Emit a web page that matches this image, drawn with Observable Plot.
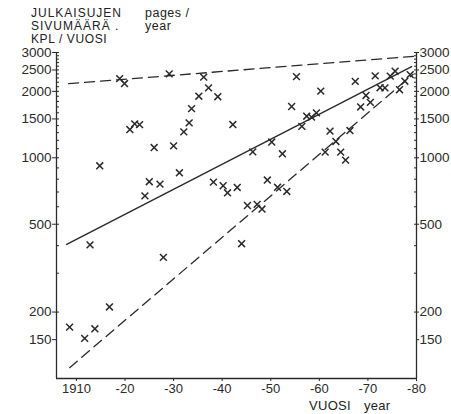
<!DOCTYPE html>
<html><head><meta charset="utf-8">
<script src="https://cdn.jsdelivr.net/npm/d3@7"></script>
<script src="https://cdn.jsdelivr.net/npm/@observablehq/plot@0.6"></script>
<style>
body{margin:0;background:#fff;}
#wrap{position:relative;width:451px;height:414px;font-family:"Liberation Sans",Arial,sans-serif;color:#222;}
#wrap svg{position:absolute;left:0;top:0;}
.lbl{position:absolute;white-space:nowrap;line-height:1;font-size:12px;}
</style></head><body>
<div id="wrap">
  <div class="lbl" style="left:31px;top:7px;letter-spacing:1px">JULKAISUJEN</div>
  <div class="lbl" style="left:31px;top:20px;letter-spacing:1px">SIVUMÄÄRÄ .</div>
  <div class="lbl" style="left:31px;top:32.5px;letter-spacing:0.6px">KPL / VUOSI</div>
  <div class="lbl" style="left:145px;top:6.5px;font-size:12.5px;letter-spacing:0.5px">pages /</div>
  <div class="lbl" style="left:145px;top:19.5px;font-size:12.5px;letter-spacing:0.5px">year</div>
  <div class="lbl" style="left:309px;top:399px;font-size:13px;letter-spacing:0.3px">VUOSI</div>
  <div class="lbl" style="left:364px;top:399px;font-size:13px;letter-spacing:0.3px">year</div>
</div>
<script>
const years = [1908.6,1911.7,1913.8,1916.8,1927.9,1912.8,1914.8,1918.9,1919.9,1929.1,1921.0,1922.0,1923.0,1926.0,1930.0,1932.1,1933.2,1933.7,1931.2,1925.0,1927.2,1924.1,1936.2,1937.2,1935.2,1939.1,1942.2,1938.2,1940.2,1941.1,1943.1,1949.3,1945.2,1947.2,1948.2,1951.4,1953.3,1944.0,1955.3,1954.3,1957.4,1958.4,1959.4,1956.4,1950.2,1946.3,1952.4,1960.3,1967.4,1971.5,1974.6,1975.6,1978.7,1977.6,1972.5,1973.5,1976.5,1969.6,1970.5,1968.5,1962.2,1966.3,1963.4,1961.2,1964.4,1965.4];
const pages = [171,152,168,211,354,403,920,2285,2170,2400,1343,1425,1413,1113,1133,1311,1440,1670,855,779,760,672,2321,2073,1902,1892,1415,776,747,694,734,793,608,615,586,735,704,408,2333,1708,1543,1528,1598,1388,1179,1064,1043,2004,2220,2350,2345,2468,2382,2224,2078,2073,2035,1916,1783,1700,1321,1329,1186,1061,1061,976];

const trendYears = [1908, 1979];
const trendPages = [405, 2590];
const upperYears = [1908.4, 1979.5];
const upperPages = [2168, 2884];
const lowerYears = [1908.6, 1979.3];
const lowerPages = [112, 2390];

const xTicks = [1910,1920,1930,1940,1950,1960,1970,1980];
const xTickLabels = ["1910","-20","-30","-40","-50","-60","-70","-80"];
const yTicks = [150,200,500,1000,1500,2000,2500,3000];
const yMinor = d3.range(200, 3001, 100);
const xDomain = [1905.9, 1980];
const yDomain = [100, 3000];

const xLabel = new Map(xTicks.map((t, i) => [t, xTickLabels[i]]));
const points = years.map((y, i) => ({year: y, pages: pages[i]}));
const toRows = (xs, ys) => xs.map((x, i) => ({year: x, pages: ys[i]}));
const ink = "#2a2a2a";

const chart = Plot.plot({
  width: 451, height: 414,
  marginTop: 52, marginBottom: 36, marginLeft: 56, marginRight: 35,
  style: {fontFamily: '"Liberation Sans", Arial, sans-serif', color: ink, background: "transparent"},
  x: {domain: xDomain},
  y: {type: "log", domain: yDomain},
  marks: [
    Plot.ruleX(xDomain, {y1: yDomain[0], y2: yDomain[1], stroke: ink, strokeWidth: 1.3}),
    Plot.ruleY([yDomain[0]], {stroke: ink, strokeWidth: 1.3}),
    Plot.axisX({ticks: xTicks, tickFormat: d => xLabel.get(d), tickSize: 3, tickPadding: 2, fontSize: 13, label: null, stroke: ink}),
    Plot.axisY({anchor: "left", ticks: yTicks, tickFormat: d => String(d), tickSize: 4, tickPadding: 1, fontSize: 13.5, label: null, stroke: ink}),
    Plot.axisY({anchor: "left", ticks: yMinor, tickFormat: () => "", tickSize: -3, label: null, stroke: ink}),
    Plot.axisY({anchor: "right", ticks: yTicks, tickFormat: d => String(d), tickSize: 2, tickPadding: 1, fontSize: 13.5, label: null, stroke: ink}),
    Plot.axisY({anchor: "right", ticks: yMinor, tickFormat: () => "", tickSize: -3, label: null, stroke: ink}),
    Plot.line(toRows(upperYears, upperPages), {x: "year", y: "pages", stroke: ink, strokeWidth: 1.3, strokeDasharray: "10,6"}),
    Plot.line(toRows(lowerYears, lowerPages), {x: "year", y: "pages", stroke: ink, strokeWidth: 1.3, strokeDasharray: "10,6"}),
    Plot.line(toRows(trendYears, trendPages), {x: "year", y: "pages", stroke: ink, strokeWidth: 1.4}),
    Plot.dot(points, {x: "year", y: "pages", symbol: "times", r: 3.2, stroke: ink, strokeWidth: 1.5})
  ]
});
document.getElementById("wrap").prepend(chart);
</script>
</body></html>
